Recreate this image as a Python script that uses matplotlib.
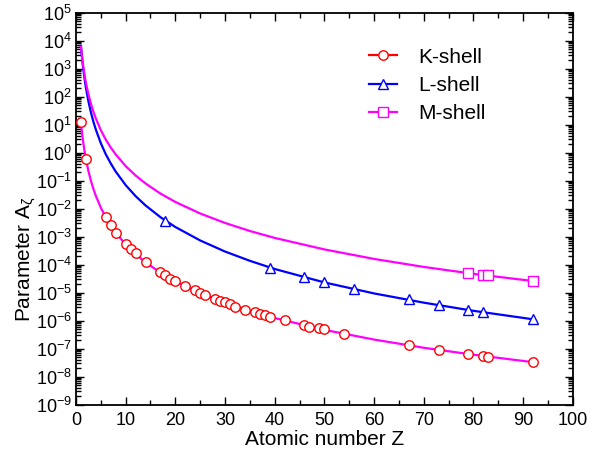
import numpy as np
import matplotlib
matplotlib.use("Agg")
import matplotlib.pyplot as plt
from matplotlib.lines import Line2D
from matplotlib.ticker import LogLocator, MultipleLocator, NullFormatter

plt.rcParams["font.family"] = ["Liberation Sans", "DejaVu Sans"]
plt.rcParams["mathtext.fontset"] = "custom"
plt.rcParams["mathtext.rm"] = "Liberation Sans"
plt.rcParams["mathtext.it"] = "Liberation Sans:italic"
plt.rcParams["mathtext.default"] = "regular"

# Smooth model curves A_zeta(Z) for each shell
curve_z = [1, 1.2, 1.4, 1.7, 2, 2.5, 3, 3.5, 4, 5, 6, 7, 8, 10, 12, 14, 17,
           20, 25, 30, 35, 40, 50, 60, 70, 80, 92]
curve_k = [12, 5.4, 2.77, 1.19, 0.59, 0.221, 0.100, 0.051, 0.0285, 0.0108,
           4.9e-3, 2.5e-3, 1.39e-3, 5.2e-4, 2.37e-4, 1.21e-4, 5.2e-5, 2.56e-5,
           9.7e-6, 4.4e-6, 2.23e-6, 1.24e-6, 4.7e-7, 2.12e-7, 1.08e-7, 6.1e-8,
           3.3e-8]
curve_l = [6.5e3, 2.6e3, 1.21e3, 4.6e2, 2.06e2, 68, 27.5, 12.8, 6.6, 2.17,
           0.87, 0.41, 0.21, 0.069, 0.0279, 0.0130, 4.95e-3, 2.21e-3, 7.3e-4,
           2.94e-4, 1.37e-4, 7.0e-5, 2.32e-5, 9.4e-6, 4.4e-6, 2.25e-6, 1.12e-6]
curve_m = [6.0e3, 2.8e3, 1.44e3, 6.3e2, 3.1e2, 1.22e2, 56, 29, 16.4, 6.3,
           2.9, 1.51, 0.86, 0.33, 0.152, 0.079, 0.0345, 0.0173, 6.7e-3,
           3.08e-3, 1.59e-3, 9.0e-4, 3.5e-4, 1.6e-4, 8.3e-5, 4.7e-5, 2.6e-5]

# Tabulated values at individual elements
k_z = [1, 2, 6, 7, 8, 10, 11, 12, 14, 17, 18, 19, 20, 22, 24, 25, 26, 28, 29,
       30, 31, 32, 34, 36, 37, 38, 39, 42, 46, 47, 49, 50, 54, 67, 73, 79, 82,
       83, 92]
k_val = [12, 0.6, 4.9e-3, 2.5e-3, 1.4e-3, 5.4e-4, 3.5e-4, 2.5e-4, 1.2e-4,
         5.4e-5, 4.1e-5, 3.0e-5, 2.6e-5, 1.7e-5, 1.2e-5, 1.0e-5, 8e-6, 6e-6,
         5.1e-6, 4.5e-6, 3.8e-6, 3.2e-6, 2.5e-6, 2.0e-6, 1.75e-6, 1.6e-6,
         1.4e-6, 1.05e-6, 6.8e-7, 6.0e-7, 5.4e-7, 4.9e-7, 3.3e-7, 1.33e-7,
         9.1e-8, 6.5e-8, 5.5e-8, 5.2e-8, 3.3e-8]
l_z = [18, 39, 46, 50, 56, 67, 73, 79, 82, 92]
l_val = [3.7e-3, 7.4e-5, 3.5e-5, 2.35e-5, 1.3e-5, 5.8e-6, 3.5e-6, 2.45e-6,
         2.0e-6, 1.12e-6]
m_z = [79, 82, 83, 92]
m_val = [5.0e-5, 4.4e-5, 4.1e-5, 2.6e-5]

labels = ["K-shell", "L-shell", "M-shell"]
RED, BLUE, MAG = "#ff0000", "#0000ff", "#ff00ff"

fig = plt.figure(figsize=(6.03, 4.55), dpi=100)
ax = fig.add_axes([0.126, 0.1105, 0.8238, 0.862])

lw = 1.6
ax.plot(curve_z, curve_l, color=BLUE, lw=lw, zorder=2)
ax.plot(curve_z, curve_m, color=MAG, lw=lw, zorder=3)
ax.plot(curve_z, curve_k, color=MAG, lw=lw, zorder=3)

ax.plot(k_z, k_val, ls="none", marker="o", ms=6.8, mfc="white", mec=RED,
        mew=1.0, zorder=4)
ax.plot(l_z, l_val, ls="none", marker="^", ms=7.5, mfc="white", mec=BLUE,
        mew=1.0, zorder=4)
ax.plot(m_z, m_val, ls="none", marker="s", ms=6.5, mfc="white", mec=MAG,
        mew=1.0, zorder=4)

ax.set_yscale("log")
ax.set_xlim(0, 100)
ax.set_ylim(1e-9, 1e5)

ax.xaxis.set_major_locator(MultipleLocator(10))
ax.xaxis.set_minor_locator(MultipleLocator(5))
ax.yaxis.set_major_locator(LogLocator(base=10, numticks=100))
ax.yaxis.set_minor_locator(LogLocator(base=10, subs=np.arange(2, 10), numticks=100))
ax.yaxis.set_minor_formatter(NullFormatter())

ax.tick_params(which="both", direction="in", top=True, right=True,
               labelsize=13, width=1.0)
ax.tick_params(which="major", length=6)
ax.tick_params(which="minor", length=3.5)
ax.tick_params(axis="x", pad=5)
ax.tick_params(axis="y", pad=3)
for s in ax.spines.values():
    s.set_linewidth(1.3)

ax.set_xlabel("Atomic number Z", fontsize=15, labelpad=1)
ax.set_ylabel("Parameter A$_{\\zeta}$", fontsize=15, va="center")
ax.yaxis.set_label_coords(-0.1, 0.371)

handles = [
    Line2D([], [], color=RED, lw=lw, marker="o", ms=6.8, mfc="white", mec=RED, mew=1.0),
    Line2D([], [], color=BLUE, lw=lw, marker="^", ms=7.5, mfc="white", mec=BLUE, mew=1.0),
    Line2D([], [], color=MAG, lw=lw, marker="s", ms=6.5, mfc="white", mec=MAG, mew=1.0),
]
ax.legend(handles, labels, loc="upper left", bbox_to_anchor=(0.573, 0.932),
          frameon=False, fontsize=15, handlelength=1.35, handletextpad=1.0,
          labelspacing=0.45, numpoints=1, borderaxespad=0)

fig.savefig("out.png", dpi=100)
